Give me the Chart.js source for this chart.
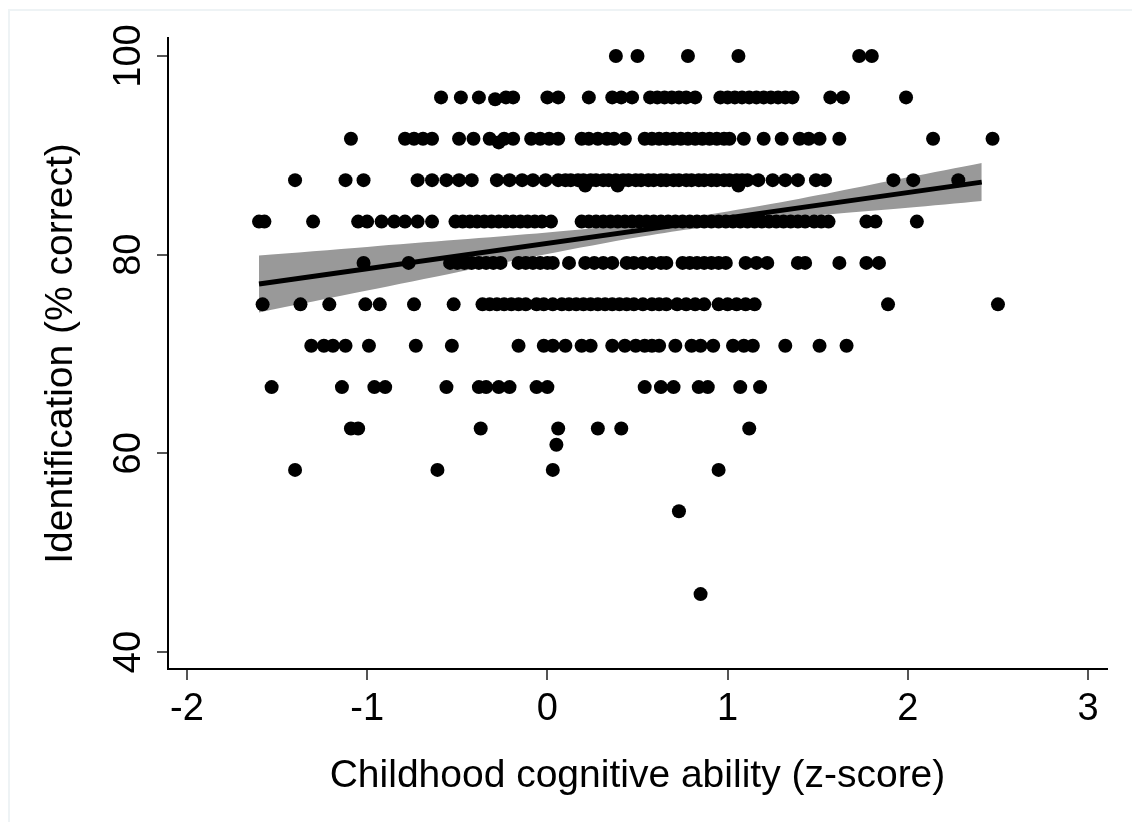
<!DOCTYPE html>
<html>
<head>
<meta charset="utf-8">
<title>Identification vs childhood cognitive ability</title>
<script src="https://cdn.jsdelivr.net/npm/chart.js@4.4.0/dist/chart.umd.min.js"></script>
<style>
    html, body { margin: 0; padding: 0; background: #fff; }
    #wrap { position: relative; width: 1132px; height: 822px; overflow: hidden; }
    #frame { position: absolute; left: 8px; top: 9px; width: 1140px; height: 830px;
             border-top: 2px solid #eef3f5; border-left: 2px solid #eef3f5; }
    #chart { position: absolute; left: 0; top: 0; }
</style>
</head>
<body>
<div id="wrap">
    <div id="frame"></div>
    <canvas id="chart" width="1132" height="822"></canvas>
</div>
<script>
// score levels (% correct, out of 24 items) and the z-scores observed at each level
const levels = [100, 95.83, 91.67, 87.5, 83.33, 79.17, 75, 70.83, 66.67, 62.5, 58.33, 54.17, 45.83];

const z100 = [0.38, 0.50, 0.78, 1.06, 1.73, 1.80];
const z96 = [-0.59, -0.48, -0.38, -0.23, -0.19, 0.00, 0.06, 0.23, 0.36, 0.41, 0.47,
    0.57, 0.61, 0.65, 0.69, 0.73, 0.77, 0.82, 0.96, 1.00, 1.04, 1.08, 1.12, 1.16,
    1.20, 1.24, 1.28, 1.32, 1.36, 1.57, 1.64, 1.99];
const z92 = [-1.09, -0.79, -0.74, -0.69, -0.64, -0.49, -0.41, -0.32, -0.24, -0.19,
    -0.09, -0.04, 0.01, 0.06, 0.19, 0.23, 0.28, 0.33, 0.37, 0.43, 0.54, 0.58, 0.62,
    0.66, 0.70, 0.74, 0.78, 0.82, 0.86, 0.90, 0.94, 0.98, 1.01, 1.09, 1.20, 1.30,
    1.40, 1.45, 1.51, 1.62, 2.14, 2.47];
const z88 = [-1.40, -1.12, -1.02, -0.72, -0.64, -0.56, -0.49, -0.42, -0.28, -0.21,
    -0.14, -0.08, -0.01, 0.06, 0.10, 0.13, 0.17, 0.20, 0.24, 0.27, 0.31, 0.34, 0.38,
    0.42, 0.45, 0.49, 0.52, 0.56, 0.59, 0.63, 0.66, 0.70, 0.73, 0.77, 0.80, 0.84,
    0.87, 0.91, 0.94, 0.98, 1.01, 1.05, 1.08, 1.11, 1.17, 1.25, 1.32, 1.39, 1.49,
    1.54, 1.92, 2.03, 2.28];
const z83 = [-1.60, -1.57, -1.30, -1.05, -1.00, -0.92, -0.85, -0.79, -0.72, -0.64,
    -0.51, -0.47, -0.43, -0.39, -0.35, -0.31, -0.27, -0.23, -0.19, -0.15, -0.11,
    -0.07, -0.03, 0.02, 0.19, 0.23, 0.27, 0.31, 0.35, 0.39, 0.43, 0.47, 0.51, 0.55,
    0.59, 0.63, 0.67, 0.71, 0.75, 0.79, 0.83, 0.87, 0.91, 0.95, 0.99, 1.03, 1.07,
    1.11, 1.15, 1.19, 1.23, 1.27, 1.31, 1.35, 1.39, 1.43, 1.48, 1.52, 1.56, 1.77,
    1.82, 2.05];
const z79 = [-1.02, -0.77, -0.54, -0.50, -0.46, -0.42, -0.38, -0.34, -0.30, -0.26,
    -0.16, -0.12, -0.08, -0.04, 0.00, 0.03, 0.12, 0.21, 0.26, 0.31, 0.36, 0.44, 0.48,
    0.53, 0.58, 0.63, 0.66, 0.75, 0.79, 0.83, 0.87, 0.91, 0.95, 0.99, 1.10, 1.16,
    1.22, 1.39, 1.43, 1.62, 1.77, 1.84];
const z75 = [-1.58, -1.37, -1.21, -1.01, -0.93, -0.74, -0.52, -0.36, -0.32, -0.28,
    -0.24, -0.20, -0.16, -0.12, -0.06, -0.02, 0.03, 0.08, 0.12, 0.16, 0.20, 0.24,
    0.28, 0.32, 0.36, 0.40, 0.44, 0.48, 0.53, 0.58, 0.62, 0.66, 0.72, 0.77, 0.82,
    0.87, 0.95, 1.00, 1.05, 1.10, 1.15, 1.89, 2.50];
const z71 = [-1.31, -1.24, -1.19, -1.12, -0.99, -0.73, -0.53, -0.16, -0.02, 0.03,
    0.10, 0.19, 0.24, 0.36, 0.43, 0.49, 0.54, 0.58, 0.62, 0.71, 0.80, 0.85, 0.92,
    1.03, 1.09, 1.14, 1.32, 1.51, 1.66];
const z67 = [-1.53, -1.14, -0.96, -0.90, -0.56, -0.38, -0.34, -0.27, -0.21, -0.06,
    0.00, 0.54, 0.63, 0.70, 0.84, 0.89, 1.07, 1.18];
const z63 = [-1.09, -1.05, -0.37, 0.06, 0.28, 0.41, 1.12];
const z58 = [-1.40, -0.61, 0.03, 0.95];
const z54 = [0.73];
const z46 = [0.85];

// participants scored out of 23 items
const oddZ = [-0.29, -0.27, 0.21, 0.39, 1.06, 0.05];
const oddScore = [95.65, 91.30, 86.96, 86.96, 86.96, 60.87];

// linear fit and its confidence band
const fitZ = [-1.6, 2.41];
const fitScore = [77.05, 87.30];
const bandZ = [-1.6, -1.0, -0.5, 0.0, 0.5, 0.8, 1.2, 1.6, 2.0, 2.41];
const bandUpper = [79.92, 80.78, 81.49, 82.22, 83.10, 83.78, 84.97, 86.33, 87.78, 89.23];
const bandLower = [74.18, 76.38, 78.23, 80.06, 81.74, 82.58, 83.45, 84.13, 84.72, 85.40];

const xTicks = [-2, -1, 0, 1, 2, 3];
const yTicks = [40, 60, 80, 100];

const zByLevel = [z100, z96, z92, z88, z83, z79, z75, z71, z67, z63, z58, z54, z46];
const scatterPoints = [];
levels.forEach((lvl, i) => {
    zByLevel[i].forEach(z => scatterPoints.push({ x: z, y: lvl }));
});
oddZ.forEach((z, i) => scatterPoints.push({ x: z, y: oddScore[i] }));

const FONT = "'Liberation Sans', Arial, sans-serif";
const bandColor = 'rgb(153,153,153)';

new Chart(document.getElementById('chart'), {
    type: 'scatter',
    data: {
        datasets: [
            {
                data: bandZ.map((z, i) => ({ x: z, y: bandUpper[i] })),
                showLine: true, borderWidth: 0, pointRadius: 0, tension: 0.3,
                borderColor: bandColor, backgroundColor: bandColor,
                fill: '+1', order: 3
            },
            {
                data: bandZ.map((z, i) => ({ x: z, y: bandLower[i] })),
                showLine: true, borderWidth: 0, pointRadius: 0, tension: 0.3,
                borderColor: bandColor, backgroundColor: bandColor,
                fill: false, order: 3
            },
            {
                data: scatterPoints,
                pointRadius: 7, pointHoverRadius: 7, borderWidth: 0,
                backgroundColor: '#000', order: 2
            },
            {
                data: fitZ.map((z, i) => ({ x: z, y: fitScore[i] })),
                showLine: true, borderWidth: 5, borderColor: '#000',
                pointRadius: 0, fill: false, order: 1
            }
        ]
    },
    options: {
        responsive: false,
        animation: false,
        events: [],
        layout: { padding: { left: 0, top: 38, right: 25, bottom: 0 } },
        plugins: { legend: { display: false }, tooltip: { enabled: false } },
        scales: {
            x: {
                type: 'linear',
                min: -2.105, max: 3.105,
                afterBuildTicks: s => { s.ticks = xTicks.map(v => ({ value: v })); },
                afterFit: s => { s.height = 153; },
                grid: { drawOnChartArea: false, drawTicks: true, tickLength: 11, color: '#555', lineWidth: 2 },
                border: { display: true, color: '#000', width: 2 },
                ticks: {
                    padding: 7, color: '#000', font: { family: FONT, size: 38 },
                    maxRotation: 0, autoSkip: false,
                    callback: v => String(v)
                },
                title: {
                    display: true, text: 'Childhood cognitive ability (z-score)',
                    color: '#000', font: { family: FONT, size: 39 },
                    padding: { top: 0, bottom: 22 }
                }
            },
            y: {
                type: 'linear',
                min: 38.29, max: 101.81,
                afterBuildTicks: s => { s.ticks = yTicks.map(v => ({ value: v })); },
                afterFit: s => { s.width = 168; },
                grid: { drawOnChartArea: false, drawTicks: true, tickLength: 11, color: '#555', lineWidth: 2 },
                border: { display: true, color: '#000', width: 2 },
                ticks: {
                    padding: -4, color: '#000', font: { family: FONT, size: 38 },
                    minRotation: 90, maxRotation: 90, crossAlign: 'center', autoSkip: false,
                    callback: v => String(v)
                },
                title: {
                    display: true, text: 'Identification (% correct)',
                    color: '#000', font: { family: FONT, size: 39 },
                    padding: { top: 38, bottom: 0 }
                }
            }
        }
    }
});
</script>
</body>
</html>
